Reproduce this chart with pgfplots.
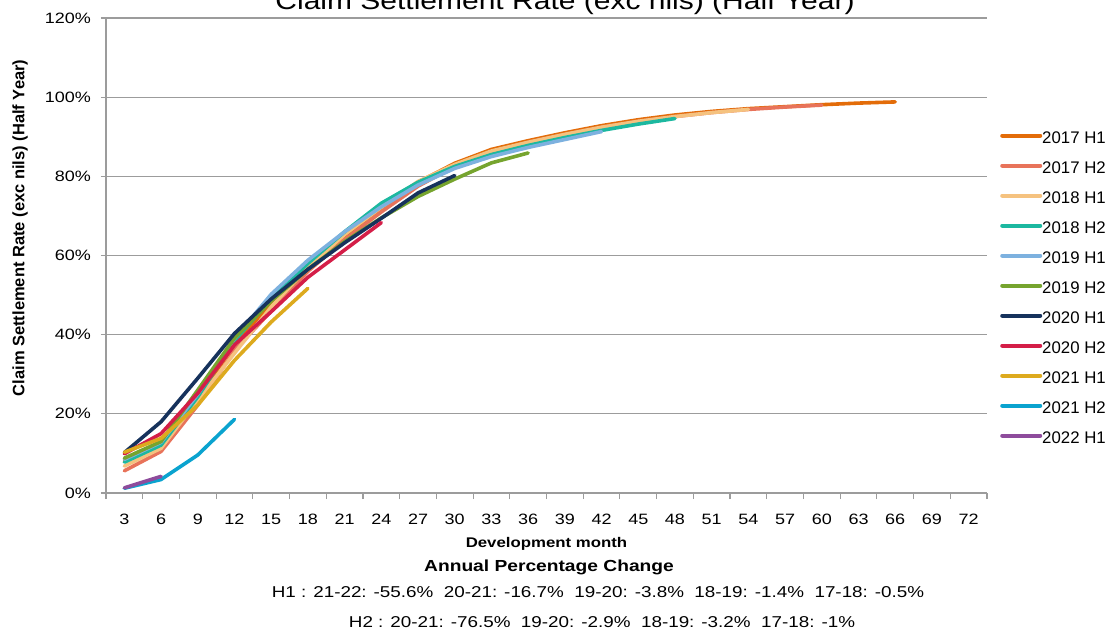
\documentclass[border=0pt]{standalone}
\usepackage{pgfplots}
\pgfplotsset{compat=1.18}
\usepackage{fontspec}
\setmainfont{Liberation Sans}
\newfontfamily\widefont{Liberation Sans}[FakeStretch=1.2]
\definecolor{c17a}{HTML}{E36C09}
\definecolor{c17b}{HTML}{E8735A}
\definecolor{c18a}{HTML}{F5C27F}
\definecolor{c18b}{HTML}{1CB8A0}
\definecolor{c19a}{HTML}{7DB1DF}
\definecolor{c19b}{HTML}{76A42E}
\definecolor{c20a}{HTML}{16325C}
\definecolor{c20b}{HTML}{D41E48}
\definecolor{c21a}{HTML}{DDAA1E}
\definecolor{c21b}{HTML}{0AA3CF}
\definecolor{c22a}{HTML}{8E4C9C}
\definecolor{gridc}{HTML}{9C9C9C}
\begin{document}
\begin{tikzpicture}
\useasboundingbox (0pt,0pt) rectangle (1105pt,632pt);
\begin{axis}[
  at={(106pt,139pt)}, anchor=south west,
  scale only axis, width=881pt, height=475pt,
  xmin=1.5, xmax=73.5, ymin=0, ymax=120,
  axis lines*=left,
  axis line style={gridc, line width=1.3pt},
  ymajorgrids, grid style={gridc, line width=1.3pt},
  xtick={3,6,...,72}, major x tick style={draw=none},
  minor xtick={1.5,4.5,...,73.5},
  minor x tick style={gridc, line width=1.1pt},
  minor tick length=6pt,
  ytick={0,20,...,120},
  y tick style={gridc, line width=1.1pt},
  major tick length=5pt,
  tick align=outside, tick pos=left,
  /pgf/number format/assume math mode=true,
  tick label style={font=\widefont\fontsize{15}{18}\selectfont},
  yticklabel={\pgfmathprintnumber{\tick}\%},
  yticklabel style={anchor=east, inner sep=0pt, xshift=-10pt},
  xticklabel style={anchor=north, inner sep=0pt, yshift=-16pt},
  xlabel={Development month},
  xlabel style={at={(axis description cs:0.5,-0.1075)}, anchor=center, font=\widefont\bfseries\fontsize{14}{16}\selectfont},
  ylabel={Claim Settlement Rate (exc nils) (Half Year)},
  ylabel style={at={(axis description cs:-0.0976,0.558)}, anchor=center, rotate=0, font=\bfseries\fontsize{16.5}{18}\selectfont},
  legend cell align=left,
  legend style={at={(rel axis cs:1.0148,0.777)}, anchor=north west, draw=none, fill=none,
    inner sep=0pt, row sep=0pt, font=\fontsize{16.8}{18}\selectfont,
    nodes={inner sep=0pt, text height=19pt, text depth=11pt}},
  legend image code/.code={\draw[#1, line width=4pt] (0pt,0.35em) -- (38pt,0.35em);},
  every axis plot/.append style={line width=3.6pt, line join=round, line cap=round},
]
\addplot[c17a] coordinates {(3,8.0)(6,12.5)(9,24.0)(12,37.5)(15,48.0)(18,57.0)(21,65.0)(24,72.0)(27,78.5)(30,83.3)(33,86.8)(36,89.0)(39,91.0)(42,92.8)(45,94.3)(48,95.5)(51,96.4)(54,97.1)(57,97.6)(60,98.1)(63,98.5)(66,98.8)};
\addlegendentry{2017 H1}
\addplot[c17b] coordinates {(3,5.6)(6,10.5)(9,22.2)(12,36.0)(15,46.0)(18,56.0)(21,64.0)(24,71.0)(27,77.5)(30,82.5)(33,86.2)(36,88.6)(39,90.6)(42,92.4)(45,93.9)(48,95.1)(51,96.1)(54,96.9)(57,97.5)(60,98.0)};
\addlegendentry{2017 H2}
\addplot[c18a] coordinates {(3,6.8)(6,11.3)(9,23.5)(12,35.3)(15,47.0)(18,57.0)(21,65.3)(24,72.2)(27,78.7)(30,83.0)(33,86.4)(36,88.6)(39,90.6)(42,92.4)(45,93.9)(48,95.1)(51,96.1)(54,96.9)};
\addlegendentry{2018 H1}
\addplot[c18b] coordinates {(3,7.8)(6,12.1)(9,24.3)(12,38.5)(15,49.0)(18,58.0)(21,66.0)(24,73.2)(27,78.5)(30,82.5)(33,85.5)(36,87.8)(39,89.8)(42,91.6)(45,93.2)(48,94.6)};
\addlegendentry{2018 H2}
\addplot[c19a] coordinates {(3,8.5)(6,12.8)(9,25.0)(12,39.0)(15,50.2)(18,58.8)(21,66.0)(24,72.3)(27,77.8)(30,82.0)(33,85.0)(36,87.3)(39,89.3)(42,91.3)};
\addlegendentry{2019 H1}
\addplot[c19b] coordinates {(3,8.8)(6,13.0)(9,26.0)(12,39.1)(15,48.5)(18,56.5)(21,63.5)(24,69.5)(27,74.9)(30,79.3)(33,83.4)(36,85.9)};
\addlegendentry{2019 H2}
\addplot[c20a] coordinates {(3,10.2)(6,18.0)(9,29.0)(12,40.3)(15,49.0)(18,56.5)(21,63.2)(24,69.4)(27,75.8)(30,80.2)};
\addlegendentry{2020 H1}
\addplot[c20b] coordinates {(3,9.9)(6,15.0)(9,25.2)(12,37.4)(15,45.8)(18,54.5)(21,61.4)(24,68.3)};
\addlegendentry{2020 H2}
\addplot[c21a] coordinates {(3,10.3)(6,13.8)(9,22.2)(12,33.5)(15,43.2)(18,51.7)};
\addlegendentry{2021 H1}
\addplot[c21b] coordinates {(3,1.2)(6,3.4)(9,9.6)(12,18.6)};
\addlegendentry{2021 H2}
\addplot[c22a] coordinates {(3,1.3)(6,4.2)};
\addlegendentry{2022 H1}
\end{axis}
\node[anchor=base, font=\widefont\fontsize{25}{28}\selectfont, inner sep=0pt] at (565pt,622pt) {Claim Settlement Rate (exc nils) (Half Year)};
\node[anchor=center, font=\widefont\bfseries\fontsize{16}{19}\selectfont, inner sep=0pt] at (549pt,65pt) {Annual Percentage Change};
\node[anchor=center, font=\widefont\fontsize{15.7}{19}\selectfont, inner sep=0pt] at (598pt,40pt) {H1 : 21-22: -55.6\%\ \ 20-21: -16.7\%\ \ 19-20: -3.8\%\ \ 18-19: -1.4\%\ \ 17-18: -0.5\%};
\node[anchor=center, font=\widefont\fontsize{15.7}{19}\selectfont, inner sep=0pt] at (602pt,10pt) {H2 : 20-21: -76.5\%\ \ 19-20: -2.9\%\ \ 18-19: -3.2\%\ \ 17-18: -1\%};
\end{tikzpicture}
\end{document}
